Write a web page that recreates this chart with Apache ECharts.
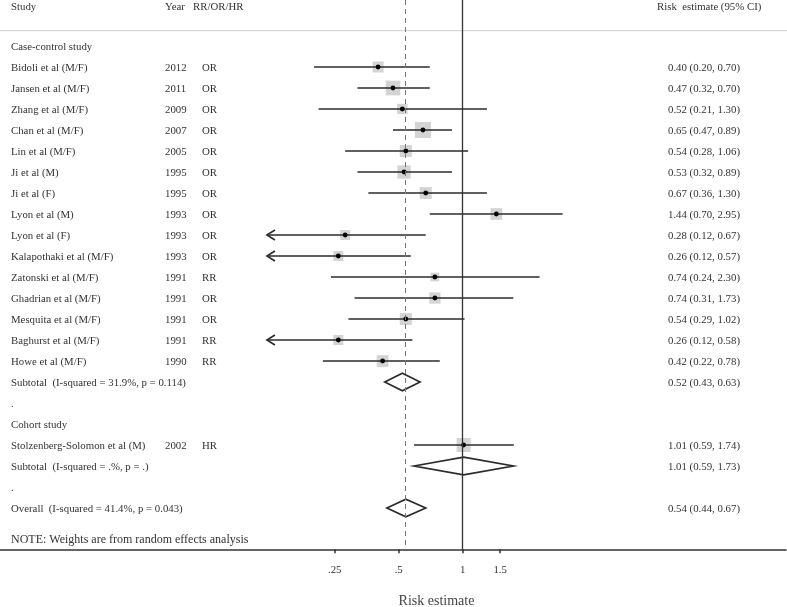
<!DOCTYPE html>
<html>
<head>
<meta charset="utf-8">
<style>
	html,body{margin:0;padding:0;background:#fff;}
	#forestChart{width:787px;height:607px;}
</style>
<script src="https://cdn.jsdelivr.net/npm/echarts@6/dist/echarts.min.js"></script>
</head>
<body>
<div id="forestChart"></div>
<script>
// 各研究数据
var studyNames = ['Bidoli et al (M/F)','Jansen et al (M/F)','Zhang et al (M/F)','Chan et al (M/F)','Lin et al (M/F)',
	'Ji et al (M)','Ji et al (F)','Lyon et al (M)','Lyon et al (F)','Kalapothaki et al (M/F)','Zatonski et al (M/F)',
	'Ghadrian et al (M/F)','Mesquita et al (M/F)','Baghurst et al (M/F)','Howe et al (M/F)','Stolzenberg-Solomon et al (M)'];
var studyYears = ['2012','2011','2009','2007','2005','1995','1995','1993','1993','1993','1991','1991','1991','1991','1990','2002'];
var effectTypes = ['OR','OR','OR','OR','OR','OR','OR','OR','OR','OR','RR','OR','OR','RR','RR','HR'];
var estimates = [0.40,0.47,0.52,0.65,0.54,0.53,0.67,1.44,0.28,0.26,0.74,0.74,0.54,0.26,0.42,1.01];
var lowerCI = [0.20,0.32,0.21,0.47,0.28,0.32,0.36,0.70,0.12,0.12,0.24,0.31,0.29,0.12,0.22,0.59];
var upperCI = [0.70,0.70,1.30,0.89,1.06,0.89,1.30,2.95,0.67,0.57,2.30,1.73,1.02,0.58,0.78,1.74];
var weights = [9.9,17.6,8.7,20.9,11.8,14.4,11.8,11.2,8.2,8.2,6.2,10.4,11.8,8.2,11.2,16.0];
var studyRows = [0,1,2,3,4,5,6,7,8,9,10,11,12,13,14,18];

// 合并结果
var pooledLabels = ['Subtotal  (I-squared = 31.9%, p = 0.114)','Subtotal  (I-squared = .%, p = .)','Overall  (I-squared = 41.4%, p = 0.043)'];
var pooledEst = [0.52,1.01,0.54];
var pooledLower = [0.43,0.59,0.44];
var pooledUpper = [0.63,1.73,0.67];
var pooledRows = [15,19,21];

// 分组标题、空行
var groupLabels = ['Case-control study','.','Cohort study','.'];
var groupRows = [-1,16,17,20];

// 坐标轴刻度
var tickValues = [0.25,0.5,1,1.5];
var tickLabels = ['.25','.5','1','1.5'];
var arrowLimit = 0.12;
var overallLine = 0.54;

var FONT = '"Liberation Serif","DejaVu Serif",serif';
var TEXT_COLOR = '#333';
var log2 = Math.log2;

function fmt(v){ return v.toFixed(2); }
function ciText(e,l,u){ return fmt(e)+' ('+fmt(l)+', '+fmt(u)+')'; }

// 文字表格行
var textRows = [];
studyNames.forEach(function(n,i){
	textRows.push({row:studyRows[i],cols:[n,studyYears[i],effectTypes[i],ciText(estimates[i],lowerCI[i],upperCI[i])]});
});
pooledLabels.forEach(function(n,i){
	textRows.push({row:pooledRows[i],cols:[n,'','',ciText(pooledEst[i],pooledLower[i],pooledUpper[i])]});
});
groupLabels.forEach(function(n,i){
	textRows.push({row:groupRows[i],cols:[n,'','','']});
});
var colX = [11,165,202,668];

var chart = echarts.init(document.getElementById('forestChart'));

function textEl(str,x,y,size){
	return {type:'text',style:{text:str,x:x,y:y,fill:TEXT_COLOR,font:size+'px '+FONT,textVerticalAlign:'middle',textAlign:'left'}};
}

var option = {
	animation:false,
	grid:{left:0,right:1,top:0,bottom:57.7,outerBoundsMode:'none'},
	xAxis:{
		type:'value',
		min:(0-462.7)/64,
		max:(786-462.7)/64,
		splitLine:{show:false},
		axisLine:{show:true,onZero:false,lineStyle:{color:'#333',width:1.6}},
		axisTick:{show:true,length:4,customValues:tickValues.map(log2),lineStyle:{color:'#333',width:1.5}},
		axisLabel:{
			customValues:tickValues.map(log2),
			margin:15,
			fontFamily:FONT,fontSize:10.8,color:TEXT_COLOR,
			formatter:function(v){
				var best=0;
				tickValues.forEach(function(t,i){ if(Math.abs(log2(t)-v)<Math.abs(log2(tickValues[best])-v)) best=i; });
				return tickLabels[best];
			}
		},
		name:'Risk estimate',
		nameLocation:'middle',
		nameGap:45,
		nameTextStyle:{fontFamily:FONT,fontSize:14,color:'#444',padding:[0,0,0,87]}
	},
	yAxis:{type:'value',inverse:true,min:-67/21,max:(549.3-67)/21,show:false},
	graphic:[
		{type:'line',shape:{x1:0,y1:30.7,x2:787,y2:30.7},style:{stroke:'#ccc',lineWidth:1}},
		textEl('Study',11,7,10.8),
		textEl('Year',165,7,10.8),
		textEl('RR/OR/HR',193,7,10.8),
		textEl('Risk  estimate (95% CI)',657,7,10.8),
		textEl('NOTE: Weights are from random effects analysis',11,540,12)
	],
	series:[
		{
			// 参考线
			type:'custom',
			data:[],
			renderItem:function(){ return null; },
			markLine:{
				silent:true,symbol:'none',label:{show:false},
				data:[
					{xAxis:0,lineStyle:{color:'#333',width:1.3,type:'solid'}},
					{xAxis:log2(overallLine),lineStyle:{color:'#777',width:1,type:[5,4]}}
				]
			}
		},
		{
			// 单个研究
			type:'custom',
			data:estimates.map(function(e,i){ return [log2(e),studyRows[i],log2(lowerCI[i]),log2(upperCI[i]),weights[i]]; }),
			encode:{x:0,y:1},
			renderItem:function(params,api){
				var p = api.coord([api.value(0),api.value(1)]);
				var lo = api.coord([api.value(2),api.value(1)])[0];
				var hi = api.coord([api.value(3),api.value(1)])[0];
				var s = 3.5*Math.sqrt(api.value(4));
				var kids = [
					{type:'rect',shape:{x:p[0]-s/2,y:p[1]-s/2,width:s,height:s},style:{fill:'#d4d4d4'}},
					{type:'line',shape:{x1:lo,y1:p[1],x2:hi,y2:p[1]},style:{stroke:'#2b2b2b',lineWidth:1.6}},
					{type:'circle',shape:{cx:p[0],cy:p[1],r:2.4},style:{fill:'#000'}}
				];
				if(api.value(2)<=log2(arrowLimit)){
					kids.push({type:'polyline',shape:{points:[[lo+8,p[1]-5],[lo,p[1]],[lo+8,p[1]+5]]},style:{stroke:'#2b2b2b',lineWidth:1.6,fill:null}});
				}
				return {type:'group',children:kids};
			}
		},
		{
			// 合并菱形
			type:'custom',
			data:pooledEst.map(function(e,i){ return [log2(e),pooledRows[i],log2(pooledLower[i]),log2(pooledUpper[i])]; }),
			encode:{x:0,y:1},
			renderItem:function(params,api){
				var p = api.coord([api.value(0),api.value(1)]);
				var lo = api.coord([api.value(2),api.value(1)])[0];
				var hi = api.coord([api.value(3),api.value(1)])[0];
				var h = 8.8;
				return {type:'polygon',shape:{points:[[lo,p[1]],[p[0],p[1]-h],[hi,p[1]],[p[0],p[1]+h]]},
					style:{stroke:'#2b2b2b',lineWidth:1.7,fill:null}};
			}
		},
		{
			// 文字列
			type:'custom',
			data:textRows.map(function(r){ return [0,r.row]; }),
			encode:{x:0,y:1},
			clip:false,
			renderItem:function(params,api){
				var y = api.coord([0,api.value(1)])[1]+1.5;
				var cols = textRows[params.dataIndex].cols;
				var kids = [];
				cols.forEach(function(c,j){ if(c) kids.push(textEl(c,colX[j],y,10.8)); });
				return {type:'group',children:kids};
			}
		}
	]
};
chart.setOption(option);
</script>
</body>
</html>
